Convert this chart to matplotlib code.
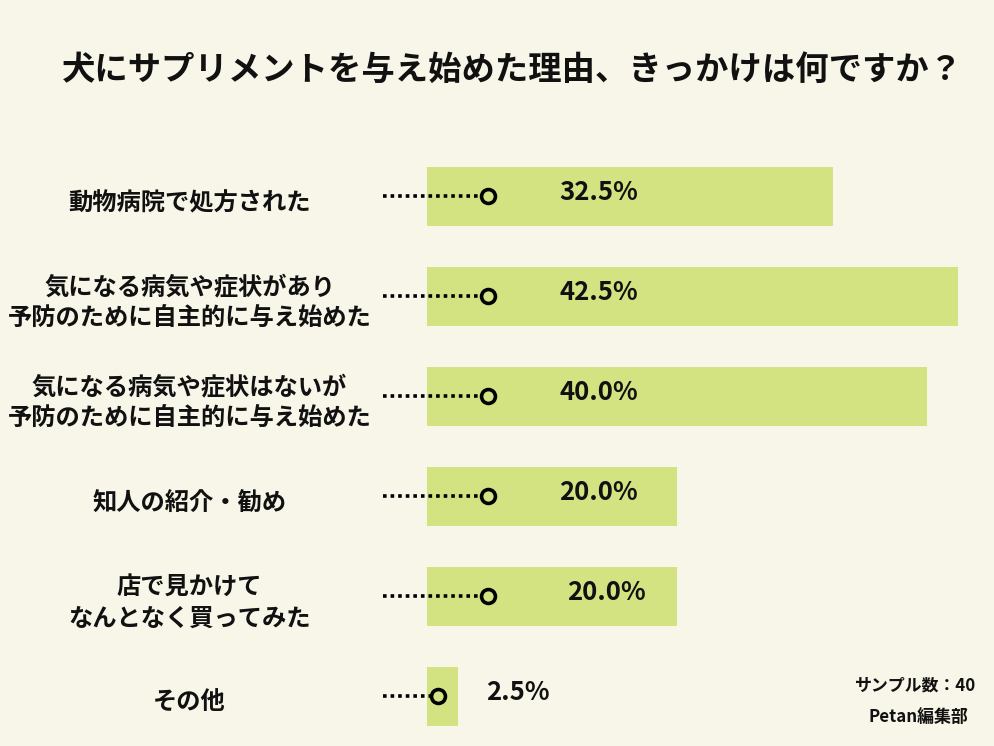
import matplotlib
matplotlib.use('Agg')
import matplotlib.pyplot as plt
import numpy as np

plt.rcParams['font.family'] = ['Noto Sans CJK JP', 'DejaVu Sans']

title = '犬にサプリメントを与え始めた理由、きっかけは何ですか？'
labels = ['動物病院で処方された',
          '気になる病気や症状があり\n予防のために自主的に与え始めた',
          '気になる病気や症状はないが\n予防のために自主的に与え始めた',
          '知人の紹介・勧め',
          '店で見かけて\nなんとなく買ってみた',
          'その他']
values = [32.5, 42.5, 40.0, 20.0, 20.0, 2.5]
note_sample = 'サンプル数：40'
note_source = 'Petan編集部'

bg = '#f8f6e8'
bar_color = '#d3e382'

W, H = 994, 746
fig = plt.figure(figsize=(W / 100, H / 100), dpi=100, facecolor=bg)

# axes: left edge at bar start, 12.5 px per percent, 100 px per row
ax_left, ax_top, ax_bottom = 427, 146, 746
ax = fig.add_axes([ax_left / W, 0, (W - ax_left) / W, (ax_bottom - ax_top) / H])
ax.set_facecolor('none')
ax.set_xlim(0, (W - ax_left) / 12.5)
ax.set_ylim(len(values) - 0.5, -0.5)
ax.axis('off')

y = np.arange(len(values))
ax.barh(y, values, height=0.59, color=bar_color, zorder=1)

dot_start = -3.5
dot_end = [4.9, 4.9, 4.9, 4.9, 4.9, 0.9]
text_x = [10.6, 10.6, 10.6, 10.6, 11.2, 4.7]
for i, v in enumerate(values):
    ax.plot([dot_start, dot_end[i]], [i, i], color='black', lw=2.6,
            linestyle=(0, (1, 1.1)), clip_on=False, zorder=2)
    ax.plot(dot_end[i], i, marker='o', ms=10, mfc=bar_color, mec='black',
            mew=2.6, clip_on=False, zorder=3)
    ax.text(text_x[i], i - 0.04, f'{v:.1f}%', ha='left', va='center',
            fontsize=18.5, fontweight='bold', color='#111111')
    ax.text(-19.0, i + 0.07, labels[i], ha='center', va='center',
            fontsize=17.5, fontweight='bold', color='#111111',
            linespacing=1.35, clip_on=False)

fig.text(62 / W, 1 - 70 / H, title, ha='left', va='center',
         fontsize=24, fontweight='bold', color='#111111')
fig.text(975 / W, 1 - 686 / H, note_sample, ha='right', va='center',
         fontsize=12.2, fontweight='bold', color='#111111')
fig.text(968 / W, 1 - 717 / H, note_source, ha='right', va='center',
         fontsize=12.2, fontweight='bold', color='#111111')

fig.savefig('out.png', dpi=100, facecolor=bg)
